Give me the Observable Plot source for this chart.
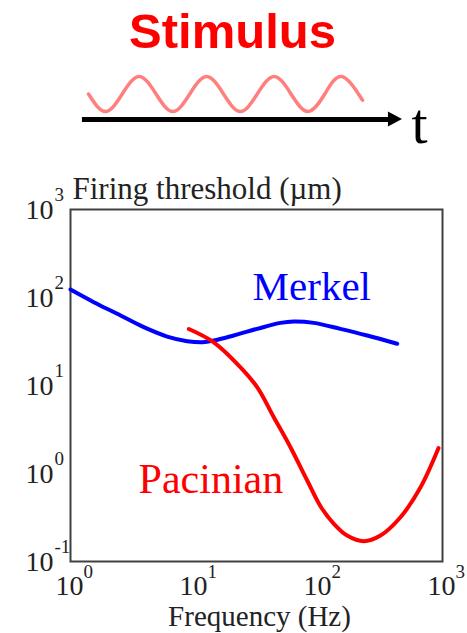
<!DOCTYPE html>
<html><head><meta charset="utf-8">
<script src="https://cdn.jsdelivr.net/npm/d3@7"></script>
<script src="https://cdn.jsdelivr.net/npm/@observablehq/plot@0.6"></script>
<style>html,body{margin:0;padding:0;background:#fff;} svg{display:block;}</style>
</head><body><div id="c"></div>
<script>
// Merkel curve (frequency Hz, threshold µm)
const merkelFreq = [1, 1.54, 2.38, 3.9, 6.02, 8.73, 11.6, 14.3, 20.7, 32, 49.4, 63.2, 91.6, 150, 247, 431];
const merkelThr  = [123, 88.5, 65.3, 46, 36, 31.9, 31, 32.4, 37, 44, 51.5, 53.4, 51.5, 44, 37, 29.8];
// Pacinian curve
const pacFreq = [9.0, 14.3, 23.5, 32.0, 43.6, 59.4, 81.1, 104, 133, 170, 232, 316, 458, 665, 929];
const pacThr  = [43.9, 31.0, 16.1, 9.57, 4.36, 1.99, 0.832, 0.422, 0.268, 0.197, 0.170, 0.197, 0.318, 0.698, 1.95];
// axis ticks
const xTicks = [1, 10, 100, 1000];
const xTickExp = ["0", "1", "2", "3"];
const yTicks = [0.1, 1, 10, 100, 1000];
const yTickExp = ["-1", "0", "1", "2", "3"];
// stimulus schematic (time in periods, amplitude)
const stimT   = [0, 0.25, 0.5, 0.75, 1, 1.25, 1.5, 1.75, 2, 2.25, 2.5, 2.75, 3, 3.25, 3.5, 3.75, 4, 4.06];
const stimAmp = [0, -1, 0, 1, 0, -1, 0, 1, 0, -1, 0, 1, 0, -1, 0, 1, 0, -0.35];
const arrowLevel = -1.457;
const headT = [4.444, 4.652];
const headHalf = [0.43, 0];

const merkel = merkelFreq.map((f, i) => ({f, v: merkelThr[i]}));
const pac = pacFreq.map((f, i) => ({f, v: pacThr[i]}));
const stim = stimT.map((t, i) => ({t, a: stimAmp[i]}));
const head = headT.map((t, i) => ({t, lo: arrowLevel - headHalf[i], hi: arrowLevel + headHalf[i]}));

const topPlot = Plot.plot({
  width: 467, height: 165, margin: 0,
  x: {domain: [-1.304, 5.615], axis: null},
  y: {domain: [-4.086, 5.343], axis: null},
  style: {background: "white", fontFamily: "Liberation Serif"},
  marks: [
    Plot.line(stim, {x: "t", y: "a", curve: "natural", stroke: "#ff7f7f", strokeWidth: 3.5}),
    Plot.ruleY([arrowLevel], {x1: -0.09, x2: 4.47, stroke: "#000", strokeWidth: 5}),
    Plot.areaY(head, {x: "t", y1: "lo", y2: "hi", fill: "#000"}),
    Plot.text(["Stimulus"], {text: d => d, frameAnchor: "top-left", dx: 232, dy: 47, lineAnchor: "bottom", textAnchor: "middle",
      fontSize: 49, fontWeight: "bold", fontFamily: "Liberation Sans", fill: "#ff0000"}),
    Plot.text(["t"], {text: d => d, frameAnchor: "top-left", dx: 411, dy: 142, lineAnchor: "bottom", textAnchor: "start",
      fontSize: 58, fontFamily: "Liberation Serif", fill: "#000"})
  ]
});

const mainPlot = Plot.plot({
  width: 467, height: 468, marginTop: 44, marginBottom: 72, marginLeft: 70, marginRight: 25,
  x: {type: "log", domain: [1, 1000], axis: null},
  y: {type: "log", domain: [0.1, 1000], axis: null},
  style: {background: "white", fontFamily: "Liberation Serif"},
  marks: [
    Plot.frame({stroke: "#404040", strokeWidth: 2}),
    Plot.line(merkel, {x: "f", y: "v", stroke: "#0000ff", strokeWidth: 4, curve: "catmull-rom"}),
    Plot.line(pac, {x: "f", y: "v", stroke: "#ff0000", strokeWidth: 4, curve: "catmull-rom"}),
    // y tick labels
    Plot.text(yTicks, {y: d => d, text: () => "10", frameAnchor: "left", dx: -17, dy: 1, textAnchor: "end", lineAnchor: "middle", fontSize: 28, fill: "#222"}),
    Plot.text(yTicks, {y: d => d, text: (d, i) => yTickExp[i], frameAnchor: "left", dx: -16, dy: -9, textAnchor: "start", lineAnchor: "bottom", fontSize: 19, fill: "#222"}),
    // x tick labels
    Plot.text(xTicks, {x: d => d, text: () => "10", frameAnchor: "bottom", dx: -1, dy: 33, textAnchor: "middle", lineAnchor: "bottom", fontSize: 28, fill: "#222"}),
    Plot.text(xTicks, {x: d => d, text: (d, i) => xTickExp[i], frameAnchor: "bottom", dx: 13, dy: 16, textAnchor: "start", lineAnchor: "bottom", fontSize: 19, fill: "#222"}),
    // axis titles
    Plot.text(["Firing threshold (µm)"], {text: d => d, frameAnchor: "top-left", dx: 2, dy: -11, textAnchor: "start", lineAnchor: "bottom", fontSize: 31, fill: "#222"}),
    Plot.text(["Frequency (Hz)"], {text: d => d, frameAnchor: "bottom", dx: 3, dy: 64, textAnchor: "middle", lineAnchor: "bottom", fontSize: 29, fill: "#222"}),
    // series labels
    Plot.text(["Merkel"], {text: d => d, x: 29.4, y: 92.5, textAnchor: "start", lineAnchor: "bottom", fontSize: 41, fill: "#0000ff"}),
    Plot.text(["Pacinian"], {text: d => d, x: 3.54, y: 0.593, textAnchor: "start", lineAnchor: "bottom", fontSize: 42, fill: "#ff0000"})
  ]
});

const c = document.getElementById("c");
c.appendChild(topPlot);
c.appendChild(mainPlot);
</script>
</body></html>
